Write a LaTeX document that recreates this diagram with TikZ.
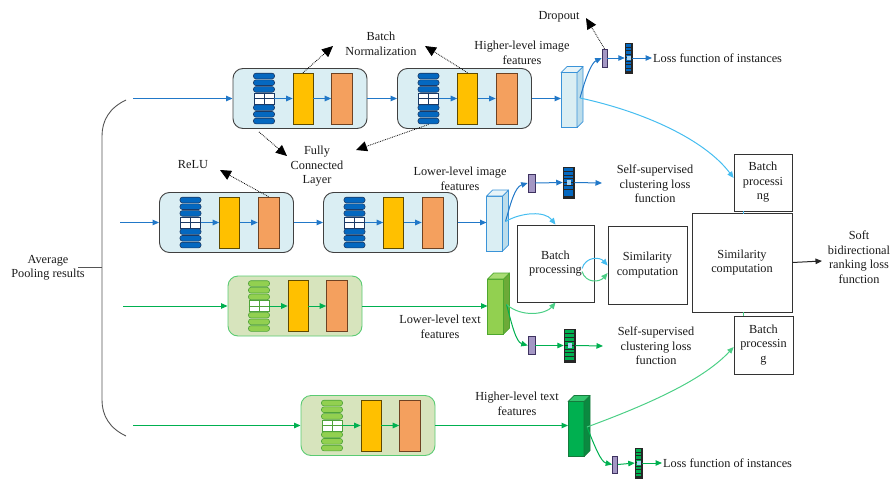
\documentclass[tikz,border=0pt]{standalone}
\usepackage{fontspec}
\setmainfont{Liberation Serif}
\usetikzlibrary{arrows.meta,calc}
\definecolor{txt}{HTML}{1A1A1A}
\definecolor{bline}{HTML}{2178C8}
\definecolor{gline}{HTML}{00B050}
\definecolor{cline}{HTML}{45BDF0}
\definecolor{lgline}{HTML}{4CCF86}
\definecolor{bborder}{HTML}{404040}
\definecolor{bfill}{HTML}{DAEEF3}
\definecolor{bpb}{HTML}{1B3A66}
\definecolor{bpf}{HTML}{0468C0}
\definecolor{gborder}{HTML}{5ACB72}
\definecolor{gfill}{HTML}{D7E4BD}
\definecolor{gpb}{HTML}{4FA33A}
\definecolor{gpf}{HTML}{92D050}
\definecolor{yel}{HTML}{FFC000}
\definecolor{yelb}{HTML}{5E4A00}
\definecolor{org}{HTML}{F4A05E}
\definecolor{orgb}{HTML}{6E4222}
\definecolor{bcb}{HTML}{3A93D8}
\definecolor{bcf}{HTML}{DAEEF3}
\definecolor{bcs}{HTML}{BCDDEB}
\definecolor{bct}{HTML}{E8F4F8}
\definecolor{gcb}{HTML}{4EA72E}
\definecolor{gcf}{HTML}{92D050}
\definecolor{gcs}{HTML}{6DAA38}
\definecolor{gct}{HTML}{A9DC74}
\definecolor{dcb}{HTML}{157A3C}
\definecolor{dcf}{HTML}{00B050}
\definecolor{dcs}{HTML}{0A8A40}
\definecolor{dct}{HTML}{33C46E}
\definecolor{pvf}{HTML}{A497C4}
\definecolor{pvb}{HTML}{3E3260}
\definecolor{cellc}{HTML}{A8D4F2}
\definecolor{boxb}{HTML}{333333}
\definecolor{bracec}{HTML}{555555}

\tikzset{
  barrow/.style={bline, line width=1pt, ->},
  garrow/.style={gline, line width=1pt, ->},
  carrow/.style={cline, line width=1pt, ->},
  lgarrow/.style={lgline, line width=1pt, ->},
  karrow/.style={black!85, line width=1pt, ->},
  ptr/.style={black, densely dotted, line width=0.8pt, -{Triangle[length=11pt,width=10pt]}},
  lbl/.style={text=txt, align=center, inner sep=0pt, font=\fontsize{12.3}{14.5}\selectfont},
  tbox/.style={lbl, draw=boxb, line width=0.8pt, fill=white},
  pvec/.style={draw=pvb, fill=pvf, line width=0.6pt, inner sep=0pt},
  yelbar/.style={draw=yelb, fill=yel, line width=0.6pt, minimum width=20pt, minimum height=51pt, inner sep=0pt},
  orgbar/.style={draw=orgb, fill=org, line width=0.6pt, minimum width=21pt, minimum height=51pt, inner sep=0pt},
  pill/.style={draw=#1pb, fill=#1pf, line width=0.6pt, rounded corners=2.4pt, minimum width=21pt, minimum height=5.6pt, inner sep=0pt},
  encblock/.pic={
    \node[draw=#1border, fill=#1fill, rounded corners=10pt, minimum width=134pt, minimum height=60pt, line width=0.9pt, inner sep=0pt] (-box) at (0,0) {};
    \node[yelbar] (-bn) at (3,0) {};
    \node[orgbar] (-relu) at (42,0) {};
    \foreach \yy in {-22.5,-15.8,-9.1,9.1,15.8,22.5} {\node[pill=#1] at (-36,\yy) {};}
    \node[draw=#1pb, fill=white, line width=0.6pt, minimum width=20pt, minimum height=11pt, inner sep=0pt] (-split) at (-36,0) {};
    \draw[#1pb, line width=0.6pt] (-split.north) -- (-split.south) (-split.west) -- (-split.east);
    \coordinate (-stackbot) at (-36,26);
    \draw[#1arrow] (-split.east) -- (-bn.west);
    \draw[#1arrow] (-bn.east) -- (-relu.west);
  },
  cuboid/.pic={
    \node[draw=#1cb, fill=#1cf, line width=0.7pt, minimum width=16pt, minimum height=55pt, inner sep=0pt, outer sep=0pt] (-front) at (0,0) {};
    \draw[draw=#1cb, fill=#1cs, line width=0.7pt, line join=round] (-front.north east) -- ++(6,-6) -- ++(0,55) -- (-front.south east) -- cycle;
    \draw[draw=#1cb, fill=#1ct, line width=0.7pt, line join=round] (-front.north west) -- ++(6,-6) -- ++(16,0) -- (-front.north east) -- cycle;
    \coordinate (-out) at (11,-2);
  },
}

\newcommand{\fvec}[6]{%
  \node[draw=black!85, fill=black!85, line width=0.5pt, minimum width=#4pt, minimum height=#5pt, inner sep=0pt] (#1) at (#2,#3) {};
  \foreach \k in {0,...,7}{
    \fill[#6] ($(#1.north west)+(1.2,{1.2+\k*(#5-2.4)/8+0.45})$) rectangle ++({#4-2.4},{(#5-2.4)/8-0.9});
  }
  \fill[cellc] ($(#1.center)+(-2,-2.2)$) rectangle ++(4,4.4);
}

\begin{document}
\begin{tikzpicture}[x=1pt,y=-1pt,>={Triangle[length=6.5pt,width=5.5pt]}]
\useasboundingbox (0,0) rectangle (893,479);

% brace and its label
\draw[bracec, line width=0.9pt] (126,100) .. controls (109,108) and (102,121) .. (102,136) -- (102,400) .. controls (102,415) and (109,428) .. (126,436);
\node[lbl] (avg) at (48,268) {Average\\Pooling results};
\draw[bracec, line width=0.9pt] (78,267) -- (102,267);

% encoder blocks
\pic (b1) at (300,98.5) {encblock=b};
\pic (b2) at (464.5,98.5) {encblock=b};
\pic (b3) at (226.5,222.5) {encblock=b};
\pic (b4) at (390.5,222.5) {encblock=b};
\pic (b5) at (295,306) {encblock=g};
\pic (b6) at (368,425.5) {encblock=g};

% feature cuboids
\pic (c1) at (569,100) {cuboid=b};
\pic (c2) at (494.5,223.5) {cuboid=b};
\pic (c3) at (495.5,306.5) {cuboid=g};
\pic (c4) at (576,429) {cuboid=d};

% small vectors
\node[pvec, minimum width=5pt, minimum height=18pt] (p1) at (604.5,58) {};
\node[pvec, minimum width=7pt, minimum height=18pt] (p2) at (531.5,183) {};
\node[pvec, minimum width=7pt, minimum height=18pt] (p3) at (531.5,345.5) {};
\node[pvec, minimum width=5pt, minimum height=17pt] (p4) at (615,464.5) {};
\fvec{v1}{628.5}{58}{7}{30}{bpf}
\fvec{v2}{568.5}{182.5}{11}{31}{bpf}
\fvec{v3}{569.5}{345.5}{11}{33}{gline}
\fvec{v4}{638.5}{463}{7}{30}{gline}

% boxes
\node[tbox, minimum width=58pt, minimum height=57pt] (bpt) at (763,182.5) {Batch\\processi\\ng};
\node[tbox, minimum width=77pt, minimum height=77pt] (bpm) at (555.5,263.5) {Batch\\processing};
\node[tbox, minimum width=79pt, minimum height=78pt] (sims) at (647.5,265) {Similarity\\computation};
\node[tbox, minimum width=100pt, minimum height=99pt] (simb) at (742,262.5) {Similarity\\computation};
\node[tbox, minimum width=59pt, minimum height=58pt] (bpb) at (763.5,345) {Batch\\processin\\g};

% labels
\node[lbl] (tbn) at (381,44) {Batch\\Normalization};
\node[lbl] (tfc) at (317,166.5) {Fully\\Connected\\Layer};
\node[lbl] (trelu) at (193,165) {ReLU};
\node[lbl] (thif) at (522,53) {Higher-level image\\features};
\node[lbl] (tdrop) at (559,17) {Dropout};
\node[lbl, anchor=west] (loss1) at (653,58) {Loss function of instances};
\node[lbl] (tlif) at (460,179) {Lower-level image\\features};
\node[lbl] (ss1) at (655,184) {Self-supervised\\clustering loss\\function};
\node[lbl] (tltf) at (440,327) {Lower-level text\\features};
\node[lbl] (ss2) at (656,346) {Self-supervised\\clustering loss\\function};
\node[lbl] (thtf) at (517,404) {Higher-level text\\features};
\node[lbl, anchor=west] (loss2) at (663,463) {Loss function of instances};
\node[lbl] (soft) at (859,257) {Soft\\bidirectional\\ranking loss\\function};

% free ends
\coordinate (in1) at (133,98.5);
\coordinate (in2) at (120,222.5);
\coordinate (in3) at (123,306);
\coordinate (in4) at (133,425.5);
\coordinate (ss1in) at (602,183);
\coordinate (ss2in) at (603,346);
\coordinate (softin) at (822,261);
\coordinate (lpa) at (582,268.5);
\coordinate (lpb) at (582,271.5);
\coordinate (bnL) at (333,46);
\coordinate (bnR) at (425,46);
\coordinate (fcL) at (287,156);
\coordinate (fcR) at (356,150);
\coordinate (reluT) at (220,170);
\coordinate (dropT) at (586,18);

% row 1
\draw[barrow] (in1) -- (b1-box.west);
\draw[barrow] (b1-box.east) -- (b2-box.west);
\draw[barrow] (b2-box.east) -- (b2-box.east -| c1-front.west);
\draw[barrow] (c1-out) .. controls (585,80) and (591,63) .. (p1.west);
\draw[barrow] (p1.east) -- (v1.west);
\draw[barrow, shorten >=1pt] (v1.east) -- (loss1.west);
\draw[carrow] (c1-out) .. controls (645,112) and (705,140) .. ($(bpt.west)+(0,-4.5)$);

% row 2
\draw[barrow] (in2) -- (b3-box.west);
\draw[barrow] (b3-box.east) -- (b4-box.west);
\draw[barrow] (b4-box.east) -- (b4-box.east -| c2-front.west);
\draw[barrow] (c2-out) .. controls (511,202) and (515,187) .. (p2.west);
\draw[barrow] (p2.east) -- (v2.west);
\draw[barrow] (v2.east) -- (ss1in);
\draw[carrow] (c2-out) .. controls (522,212) and (545,211) .. (bpm.north);

% row 3
\draw[garrow] (in3) -- (b5-box.west);
\draw[garrow] (b5-box.east) -- (b5-box.east -| c3-front.west);
\draw[lgarrow] (c3-out) .. controls (522,318) and (546,314) .. (bpm.south);
\draw[garrow] (c3-out) .. controls (512,325) and (516,342) .. (p3.west);
\draw[garrow] (p3.east) -- (v3.west);
\draw[garrow] (v3.east) -- (ss2in);

% row 4
\draw[garrow] (in4) -- (b6-box.west);
\draw[garrow] (b6-box.east) -- (b6-box.east -| c4-front.west);
\draw[garrow] (c4-out) .. controls (595,447) and (601,462) .. (p4.west);
\draw[garrow] (p4.east) -- (v4.west);
\draw[garrow, shorten >=1pt] (v4.east) -- (loss2.west);
\draw[lgarrow] (c4-out) .. controls (655,402) and (705,378) .. ($(bpb.west)+(0,2)$);

% middle
\draw[carrow] (lpa) .. controls (586,256) and (600,257) .. ($(sims.west)+(0,0.5)$);
\draw[lgarrow] (lpb) .. controls (586,284) and (600,282) .. ($(sims.west)+(0,8)$);
\draw[cline, line width=0.8pt] ($(bpt.south)+(-20,0)$) -- ++(0,2.5);
\draw[lgline, line width=0.8pt] ($(bpb.north)+(-20.5,0)$) -- ++(0,-3.5);
\draw[karrow] (simb.east) -- (softin);

% pointers
\draw[ptr] (b1-bn.north) -- (bnL);
\draw[ptr] (b2-bn.north) -- (bnR);
\draw[ptr] ($(b1-box.south)+(-41,3)$) -- (fcL);
\draw[ptr] (b2-stackbot) -- (fcR);
\draw[ptr] (b3-relu.north) -- (reluT);
\draw[ptr] (p1.north) -- (dropT);
\end{tikzpicture}
\end{document}
